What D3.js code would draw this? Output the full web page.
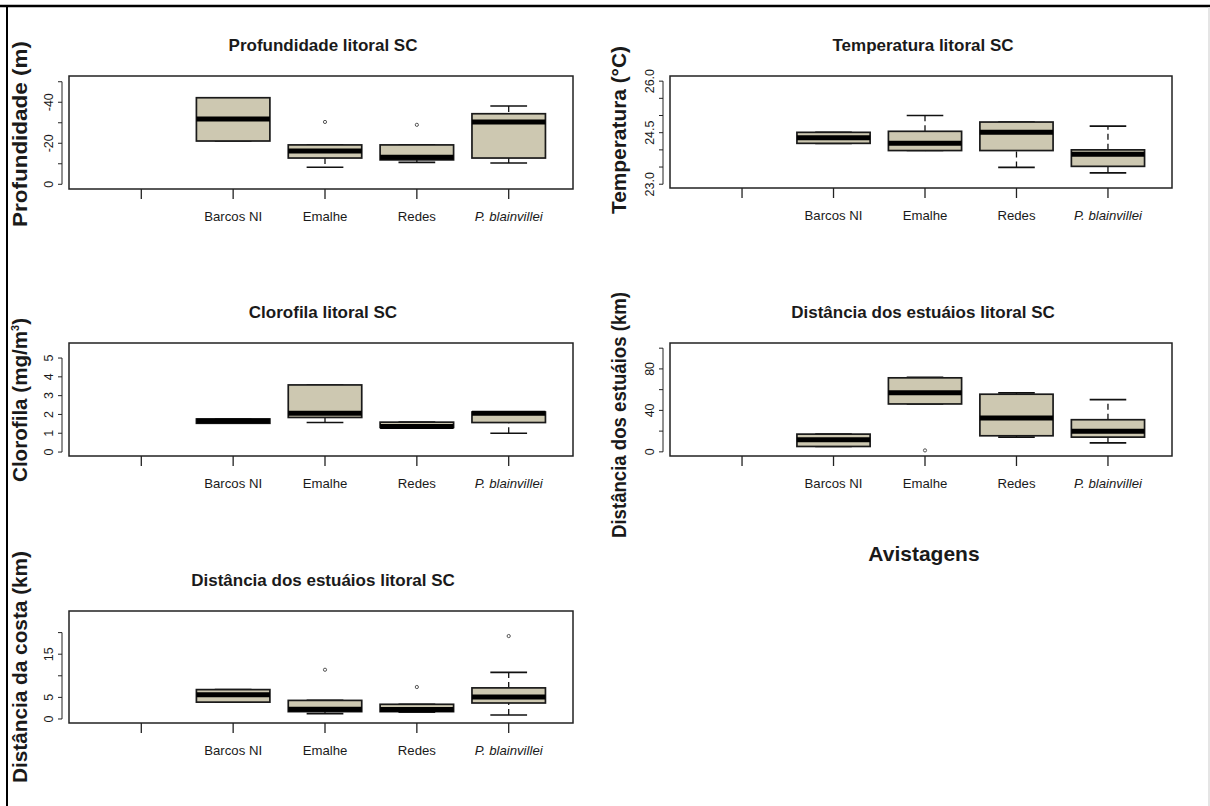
<!DOCTYPE html>
<html>
<head>
<meta charset="utf-8">
<script src="https://cdn.jsdelivr.net/npm/d3@7"></script>
<style>
  body { margin: 0; background: #fff; }
  svg text { font-family: "Liberation Sans", Arial, sans-serif; fill: #1a1a1a; }
</style>
</head>
<body>
<svg id="chart" width="1210" height="806"></svg>
<script>
// categorias (primeira posicao vazia, como no original)
var categories = ["", "Barcos NI", "Emalhe", "Redes", "P. blainvillei"];

// estatisticas por categoria: [limInf, q1, mediana, q3, limSup]
var profStats = [null, [-42.2, -42.2, -31.8, -21.1, -21.1], [-19.2, -19.2, -16.2, -12.8, -8.3], [-19.2, -19.2, -13.2, -11.9, -10.7], [-38.2, -34.4, -30.4, -12.8, -10.4]];
var profOutliers = [[], [], [-30.4], [-29], []];
var profTicks = [0, -10, -20, -30, -40, -50];
var profTickLabels = ["0", "", "-20", "", "-40", ""];

var tempStats = [null, [24.19, 24.19, 24.35, 24.51, 24.51], [23.98, 23.98, 24.19, 24.54, 25.0], [23.49, 23.98, 24.51, 24.81, 24.81], [23.33, 23.52, 23.87, 24.0, 24.69]];
var tempOutliers = [[], [], [], [], []];
var tempTicks = [23.0, 23.5, 24.0, 24.5, 25.0, 25.5, 26.0];
var tempTickLabels = ["23.0", "", "", "24.5", "", "", "26.0"];

var cloroStats = [null, [1.53, 1.53, 1.65, 1.76, 1.76], [1.57, 1.84, 2.07, 3.57, 3.57], [1.31, 1.31, 1.36, 1.59, 1.59], [1.0, 1.57, 2.07, 2.13, 2.13]];
var cloroOutliers = [[], [], [], [], []];
var cloroTicks = [0, 1, 2, 3, 4, 5];
var cloroTickLabels = ["0", "1", "2", "3", "4", "5"];

var estuStats = [null, [5.2, 5.2, 11.6, 17.1, 17.1], [46.2, 46.2, 56.9, 71.4, 72], [14.2, 15.5, 32.6, 55.6, 56.9], [8.7, 14.2, 19.8, 31, 50.4]];
var estuOutliers = [[], [], [1.4], [], []];
var estuTicks = [0, 20, 40, 60, 80, 100];
var estuTickLabels = ["0", "", "40", "", "80", ""];

var costaStats = [null, [3.9, 3.9, 5.6, 6.8, 6.8], [1.25, 1.7, 2.25, 4.3, 4.3], [1.55, 1.7, 2.2, 3.4, 3.4], [0.93, 3.7, 5.1, 7.2, 10.8]];
var costaOutliers = [[], [], [11.4], [7.4], [19.2]];
var costaTicks = [0, 5, 10, 15, 20];
var costaTickLabels = ["0", "5", "", "15", ""];

var panels = [
  { title: "Profundidade litoral SC", ylab: "Profundidade (m)", stats: profStats, outliers: profOutliers, ticks: profTicks, tickLabels: profTickLabels,
    domain: [2.3, -52.8], x0: 69, x1: 573, y0: 76, y1: 189, labX: 27, labY: 134, labLen: 186, labSize: 21 },
  { title: "Temperatura litoral SC", ylab: "Temperatura (°C)", stats: tempStats, outliers: tempOutliers, ticks: tempTicks, tickLabels: tempTickLabels,
    domain: [22.89, 26.15], x0: 670, x1: 1172, y0: 76, y1: 188, labX: 626, labY: 130, labLen: 168, labSize: 21 },
  { title: "Clorofila litoral SC", ylab: "Clorofila (mg/m", sup: "3", stats: cloroStats, outliers: cloroOutliers, ticks: cloroTicks, tickLabels: cloroTickLabels,
    domain: [-0.21, 5.8], x0: 69, x1: 573, y0: 343, y1: 456, labX: 27, labY: 400, labLen: 164, labSize: 21 },
  { title: "Distância dos estuáios litoral SC", ylab: "Distância dos estuáios (km)", stats: estuStats, outliers: estuOutliers, ticks: estuTicks, tickLabels: estuTickLabels,
    domain: [-4, 105], x0: 670, x1: 1172, y0: 343, y1: 456, labX: 626, labY: 415, labLen: 246, labSize: 20 },
  { title: "Distância dos estuáios litoral SC", ylab: "Distância da costa (km)", stats: costaStats, outliers: costaOutliers, ticks: costaTicks, tickLabels: costaTickLabels,
    domain: [-0.93, 25], x0: 69, x1: 573, y0: 611, y1: 723, labX: 27, labY: 667, labLen: 232, labSize: 21 }
];

var svg = d3.select('#chart');

// moldura
svg.append('line').attr('x1', 0).attr('x2', 1210).attr('y1', 6).attr('y2', 6).attr('stroke', '#000').attr('stroke-width', 2.5);
svg.append('line').attr('x1', 7).attr('x2', 7).attr('y1', 6).attr('y2', 806).attr('stroke', '#000').attr('stroke-width', 2);
svg.append('line').attr('x1', 1209).attr('x2', 1209).attr('y1', 7).attr('y2', 806).attr('stroke', '#ddd').attr('stroke-width', 1.5);

panels.forEach(function(p) {
  var g = svg.append('g');
  var x = d3.scalePoint().domain(categories).range([p.x0 + 8, p.x1]).padding(0.7);
  var y = d3.scaleLinear().domain(p.domain).range([p.y1, p.y0]);
  var bw = x.step() * 0.8;

  // titulo
  g.append('text').attr('x', (p.x0 + p.x1) / 2 + 2).attr('y', p.y0 - 25)
    .attr('text-anchor', 'middle').attr('font-size', 17).attr('font-weight', 'bold').text(p.title);

  // eixo y (linha deslocada do quadro, rotulos paralelos)
  var ax = p.x0 - 7;
  g.append('line').attr('x1', ax).attr('x2', ax)
    .attr('y1', y(p.ticks[0])).attr('y2', y(p.ticks[p.ticks.length - 1]))
    .attr('stroke', '#222').attr('stroke-width', 1);
  p.ticks.forEach(function(t, i) {
    g.append('line').attr('x1', ax - 4).attr('x2', ax).attr('y1', y(t)).attr('y2', y(t))
      .attr('stroke', '#222').attr('stroke-width', 1);
    if (p.tickLabels[i]) {
      g.append('text').attr('transform', 'translate(' + (ax - 9) + ',' + y(t) + ') rotate(-90)')
        .attr('text-anchor', 'middle').attr('font-size', 12.5).text(p.tickLabels[i]);
    }
  });

  // eixo x: so marcas e rotulos
  categories.forEach(function(c) {
    g.append('line').attr('x1', x(c)).attr('x2', x(c)).attr('y1', p.y1).attr('y2', p.y1 + 10)
      .attr('stroke', '#222').attr('stroke-width', 1.3);
    if (c) {
      g.append('text').attr('x', x(c)).attr('y', p.y1 + 32).attr('text-anchor', 'middle')
        .attr('font-size', 13.2).attr('font-style', c === "P. blainvillei" ? 'italic' : null).text(c);
    }
  });

  // caixas
  categories.forEach(function(c, i) {
    var s = p.stats[i];
    if (!s) return;
    var cx = x(c);
    g.append('line').attr('x1', cx).attr('x2', cx).attr('y1', y(s[0])).attr('y2', y(s[1]))
      .attr('stroke', '#111').attr('stroke-width', 1.3).attr('stroke-dasharray', '6,4');
    g.append('line').attr('x1', cx).attr('x2', cx).attr('y1', y(s[3])).attr('y2', y(s[4]))
      .attr('stroke', '#111').attr('stroke-width', 1.3).attr('stroke-dasharray', '6,4');
    [s[0], s[4]].forEach(function(v) {
      g.append('line').attr('x1', cx - bw / 4).attr('x2', cx + bw / 4).attr('y1', y(v)).attr('y2', y(v))
        .attr('stroke', '#111').attr('stroke-width', 1.6);
    });
    var ya = y(s[1]), yb = y(s[3]);
    g.append('rect').attr('x', cx - bw / 2).attr('width', bw)
      .attr('y', Math.min(ya, yb)).attr('height', Math.abs(ya - yb))
      .attr('fill', '#CDC8B1').attr('stroke', '#1a1a1a').attr('stroke-width', 1.7);
    g.append('line').attr('x1', cx - bw / 2).attr('x2', cx + bw / 2).attr('y1', y(s[2])).attr('y2', y(s[2]))
      .attr('stroke', '#000').attr('stroke-width', 5);
    p.outliers[i].forEach(function(v) {
      g.append('circle').attr('cx', cx).attr('cy', y(v)).attr('r', 1.6)
        .attr('fill', 'none').attr('stroke', '#555').attr('stroke-width', 1);
    });
  });

  // quadro do grafico
  g.append('rect').attr('x', p.x0).attr('y', p.y0).attr('width', p.x1 - p.x0).attr('height', p.y1 - p.y0)
    .attr('fill', 'none').attr('stroke', '#222').attr('stroke-width', 1.5);

  // rotulo do eixo y
  var lab = g.append('text').attr('transform', 'translate(' + p.labX + ',' + p.labY + ') rotate(-90)')
    .attr('text-anchor', 'middle').attr('font-size', p.labSize).attr('font-weight', 'bold')
    .attr('textLength', p.labLen).attr('lengthAdjust', 'spacingAndGlyphs');
  lab.append('tspan').text(p.ylab);
  if (p.sup) {
    lab.append('tspan').attr('dy', -8).attr('font-size', 11).text(p.sup);
    lab.append('tspan').attr('dy', 8).text(')');
  }
});

svg.append('text').attr('x', 924).attr('y', 561).attr('text-anchor', 'middle')
  .attr('font-size', 21).attr('font-weight', 'bold').text('Avistagens');
</script>
</body>
</html>
